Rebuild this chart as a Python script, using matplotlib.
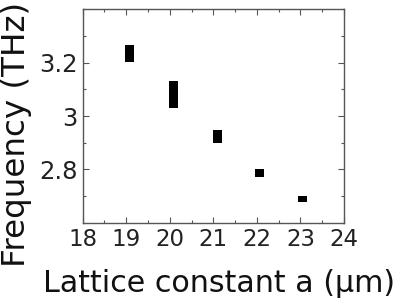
import matplotlib
matplotlib.use("Agg")
import matplotlib.pyplot as plt
from matplotlib.ticker import MultipleLocator

plt.rcParams['font.family'] = ['DejaVu Sans']

lattice = [19.07, 20.09, 21.10, 22.06, 23.05]
freq_low = [3.204, 3.031, 2.900, 2.772, 2.678]
freq_high = [3.266, 3.131, 2.948, 2.801, 2.700]
xticks = [18, 19, 20, 21, 22, 23, 24]
yticks = [2.8, 3.0, 3.2]
yticklabels = ['2.8', '3', '3.2']

fig = plt.figure(figsize=(3.97, 3.0), dpi=100)
ax = fig.add_axes([82.7/397, 1-222.7/300, (344-82.7)/397, (222.7-9.3)/300])

heights = [h - l for h, l in zip(freq_high, freq_low)]
ax.bar(lattice, heights, bottom=freq_low, width=0.2, color='black', edgecolor='none')

ax.set_xlim(18, 24)
ax.set_ylim(2.6, 3.4)
ax.set_xticks(xticks)
ax.set_xticklabels([str(t) for t in xticks])
ax.set_yticks(yticks)
ax.set_yticklabels(yticklabels)
ax.xaxis.set_minor_locator(MultipleLocator(0.5))
ax.yaxis.set_minor_locator(MultipleLocator(0.1))
ax.tick_params(which='both', direction='in', top=True, right=True, color='#555555', labelcolor='#222222')
ax.tick_params(axis='x', labelsize=16.5, pad=3.8)
ax.tick_params(axis='y', labelsize=17.5, pad=3.5)
ax.tick_params(which='major', length=4, width=0.8)
ax.tick_params(which='minor', length=2.5, width=0.8)
for s in ax.spines.values():
    s.set_color('#555555')
    s.set_linewidth(1.0)

fig.text(43/397, 1-291.7/300, 'Lattice constant a (μm)', fontsize=21.7, ha='left', va='baseline', color='#111111')
fig.text(25/397, 1-134/300, 'Frequency (THz)', fontsize=23.4, rotation=90, ha='center', va='baseline', rotation_mode='anchor', color='#111111')

fig.savefig('out.png', dpi=100)
